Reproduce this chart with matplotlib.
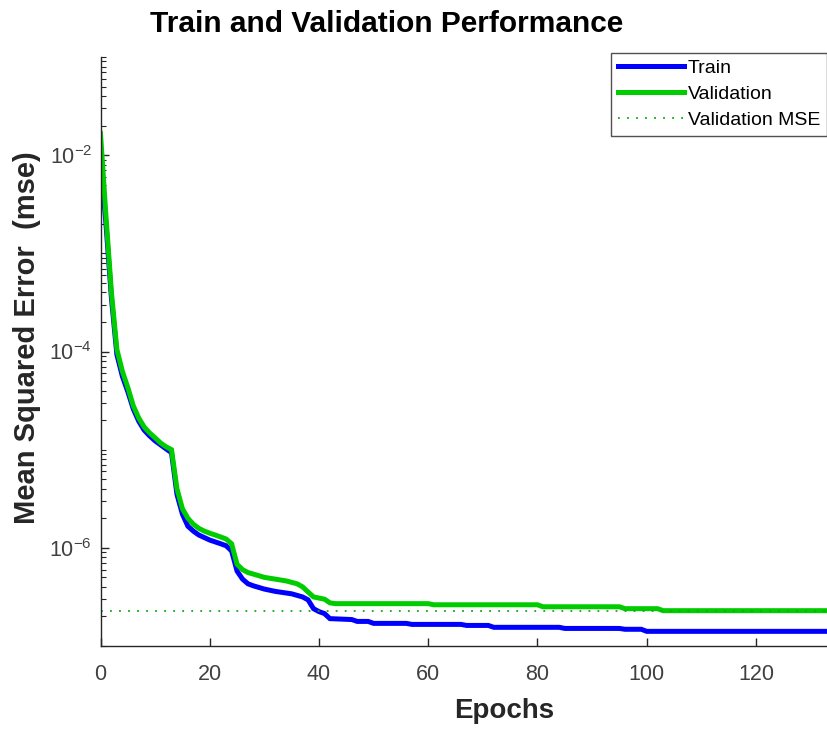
import numpy as np
import matplotlib
matplotlib.use("Agg")
import matplotlib.pyplot as plt

plt.rcParams['font.family'] = ['Liberation Sans', 'DejaVu Sans']
plt.rcParams['mathtext.fontset'] = 'custom'
plt.rcParams['mathtext.rm'] = 'Liberation Sans'
plt.rcParams['mathtext.it'] = 'Liberation Sans'

# values (epoch, mse)
train_epochs = [0, 1, 2, 3, 4, 5, 6, 7, 8, 9, 10, 11, 12, 13, 14, 15, 16, 17, 18, 20,
                22, 23, 24, 25, 26, 27, 28, 30, 32, 35, 37, 38, 39, 40, 41, 42, 46, 47,
                49, 50, 56, 57, 66, 67, 71, 72, 84, 85, 95, 96, 99, 100, 133]
train_mse = [8.9e-3, 2.0e-3, 3.5e-4, 9.3e-5, 5.6e-5, 3.9e-5, 2.6e-5, 1.95e-5, 1.58e-5,
             1.38e-5, 1.23e-5, 1.12e-5, 1.02e-5, 9.3e-6, 3.5e-6, 2.2e-6, 1.66e-6, 1.48e-6,
             1.35e-6, 1.2e-6, 1.1e-6, 1.05e-6, 9.3e-7, 5.8e-7, 4.8e-7, 4.3e-7, 4.1e-7,
             3.8e-7, 3.6e-7, 3.4e-7, 3.16e-7, 2.95e-7, 2.4e-7, 2.24e-7, 2.14e-7, 1.9e-7,
             1.86e-7, 1.78e-7, 1.78e-7, 1.7e-7, 1.7e-7, 1.66e-7, 1.66e-7, 1.62e-7, 1.62e-7,
             1.55e-7, 1.55e-7, 1.51e-7, 1.51e-7, 1.48e-7, 1.48e-7, 1.41e-7, 1.41e-7]

val_epochs = [0, 1, 2, 3, 4, 5, 6, 7, 8, 9, 10, 11, 12, 13, 14, 15, 16, 17, 18, 19, 20,
              21, 22, 23, 24, 25, 26, 27, 28, 30, 32, 34, 36, 37, 38, 39, 41, 42, 43, 60,
              61, 80, 81, 95, 96, 102, 103, 133]
val_mse = [1.66e-2, 2.4e-3, 4.0e-4, 1.05e-4, 6.3e-5, 4.3e-5, 2.8e-5, 2.1e-5, 1.7e-5,
           1.48e-5, 1.32e-5, 1.17e-5, 1.07e-5, 1.0e-5, 4.0e-6, 2.5e-6, 2.0e-6, 1.74e-6,
           1.58e-6, 1.48e-6, 1.41e-6, 1.35e-6, 1.29e-6, 1.23e-6, 1.10e-6, 6.8e-7, 6.0e-7,
           5.6e-7, 5.4e-7, 5.0e-7, 4.8e-7, 4.6e-7, 4.3e-7, 4.0e-7, 3.55e-7, 3.16e-7, 3.0e-7,
           2.75e-7, 2.7e-7, 2.7e-7, 2.63e-7, 2.63e-7, 2.51e-7, 2.51e-7, 2.4e-7, 2.4e-7,
           2.29e-7, 2.29e-7]

best_val_mse = 2.29e-7
n_epochs = 133

x_ticks = [0, 20, 40, 60, 80, 100, 120]
y_ticks = [1e-6, 1e-4, 1e-2]
y_tick_labels = [r'$10^{-6}$', r'$10^{-4}$', r'$10^{-2}$']

BLUE = '#0000ff'
GREEN = '#00cc00'
GREY = '#262626'

fig = plt.figure(figsize=(8.27, 7.31), dpi=100)
ax = fig.add_axes([100.5 / 827, 85 / 731, 726.5 / 827, 589 / 731])

ax.plot(train_epochs, train_mse, color=BLUE, lw=3.6, label='Train', solid_joinstyle='miter')
ax.plot(val_epochs, val_mse, color=GREEN, lw=3.6, label='Validation', solid_joinstyle='miter')
ax.plot([0, n_epochs], [best_val_mse, best_val_mse], color='#11aa11', lw=1.3,
        ls=(0, (1, 4)), label='Validation MSE')

ax.set_yscale('log')
ax.set_xlim(0, n_epochs)
ax.set_ylim(1e-7, 1e-1)
ax.set_xticks(x_ticks)
ax.set_yticks(y_ticks, labels=y_tick_labels)
minor = [m * 10.0 ** e for e in range(-7, -1) for m in range(1, 10)]
minor = [v for v in minor if v not in y_ticks] + [1e-1]
ax.set_yticks(minor, minor=True)
ax.set_yticklabels([], minor=True)

for s in ['top', 'right']:
    ax.spines[s].set_visible(False)
for s in ['left', 'bottom']:
    ax.spines[s].set_color(GREY)
    ax.spines[s].set_linewidth(1.0)

ax.tick_params(axis='both', which='major', direction='in', length=6, width=1.0,
               color=GREY, labelcolor='#404040', labelsize=15.5)
ax.tick_params(axis='both', which='minor', direction='in', length=3.5, width=0.8, color=GREY)
ax.tick_params(axis='x', pad=13)
ax.tick_params(axis='y', pad=6)

leg = ax.legend(loc='upper right', bbox_to_anchor=(1.0, 1.007), fontsize=14,
                frameon=True, fancybox=False, edgecolor=GREY, handlelength=3.4,
                handletextpad=0.2, labelspacing=0.42, borderpad=0.35, borderaxespad=0.0)
leg.get_frame().set_linewidth(1.0)

fig.text(387 / 827, 1 - 32 / 731, 'Train and Validation Performance', ha='center',
         va='baseline', fontsize=21.5, fontweight='bold', color='black')
fig.text(504 / 827, 1 - 718 / 731, 'Epochs', ha='center', va='baseline',
         fontsize=20, fontweight='bold', color=GREY)
fig.text(27 / 827, 1 - 338 / 731, 'Mean Squared Error  (mse)', ha='center', va='center',
         rotation=90, fontsize=21, fontweight='bold', color=GREY)

fig.savefig('out.png', dpi=100)
